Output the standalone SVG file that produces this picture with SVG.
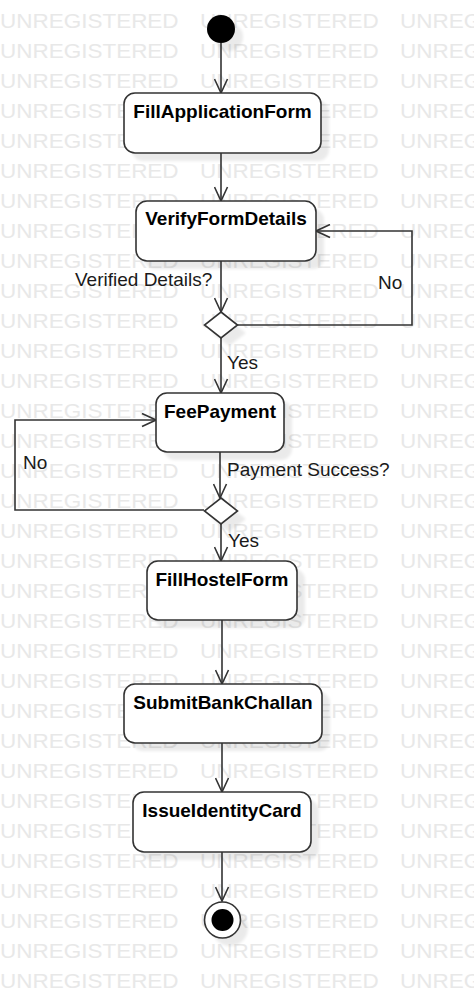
<svg xmlns="http://www.w3.org/2000/svg" width="474" height="999" viewBox="0 0 474 999">
<style>
.wm{font-family:"Liberation Sans",Arial,sans-serif;font-size:20px;fill:#e8e8e8}
.node{fill:#fff;stroke:#333;stroke-width:1.6}
.shadow{fill:#000;opacity:0.08;filter:url(#blur)}
.title{font-family:"Liberation Sans",Arial,sans-serif;font-size:19px;font-weight:bold;fill:#000;text-anchor:middle}
.lbl{font-family:"Liberation Sans",Arial,sans-serif;font-size:19px;fill:#1a1a1a}
.edge{fill:none;stroke:#333;stroke-width:1.6;marker-end:url(#arr)}
</style>
<defs>
<filter id="blur" x="-20%" y="-20%" width="140%" height="140%"><feGaussianBlur stdDeviation="1.5"/></filter>
<marker id="arr" markerUnits="userSpaceOnUse" viewBox="0 0 16 15" refX="15" refY="7.5" markerWidth="16" markerHeight="15" orient="auto"><path d="M1,1 L15,7.5 L1,14" fill="none" stroke="#333" stroke-width="1.6"/></marker>
</defs>
<rect width="474" height="999" fill="#fff"/>
<g id="watermark" transform="scale(1.125,1)">
<text class="wm" y="28"><tspan x="0">UNREGISTERED</tspan><tspan x="177.8">UNREGISTERED</tspan><tspan x="355.6">UNREGISTERED</tspan></text>
<text class="wm" y="58"><tspan x="0">UNREGISTERED</tspan><tspan x="177.8">UNREGISTERED</tspan><tspan x="355.6">UNREGISTERED</tspan></text>
<text class="wm" y="88"><tspan x="0">UNREGISTERED</tspan><tspan x="177.8">UNREGISTERED</tspan><tspan x="355.6">UNREGISTERED</tspan></text>
<text class="wm" y="118"><tspan x="0">UNREGISTERED</tspan><tspan x="177.8">UNREGISTERED</tspan><tspan x="355.6">UNREGISTERED</tspan></text>
<text class="wm" y="148"><tspan x="0">UNREGISTERED</tspan><tspan x="177.8">UNREGISTERED</tspan><tspan x="355.6">UNREGISTERED</tspan></text>
<text class="wm" y="178"><tspan x="0">UNREGISTERED</tspan><tspan x="177.8">UNREGISTERED</tspan><tspan x="355.6">UNREGISTERED</tspan></text>
<text class="wm" y="208"><tspan x="0">UNREGISTERED</tspan><tspan x="177.8">UNREGISTERED</tspan><tspan x="355.6">UNREGISTERED</tspan></text>
<text class="wm" y="238"><tspan x="0">UNREGISTERED</tspan><tspan x="177.8">UNREGISTERED</tspan><tspan x="355.6">UNREGISTERED</tspan></text>
<text class="wm" y="268"><tspan x="0">UNREGISTERED</tspan><tspan x="177.8">UNREGISTERED</tspan><tspan x="355.6">UNREGISTERED</tspan></text>
<text class="wm" y="298"><tspan x="0">UNREGISTERED</tspan><tspan x="177.8">UNREGISTERED</tspan><tspan x="355.6">UNREGISTERED</tspan></text>
<text class="wm" y="328"><tspan x="0">UNREGISTERED</tspan><tspan x="177.8">UNREGISTERED</tspan><tspan x="355.6">UNREGISTERED</tspan></text>
<text class="wm" y="358"><tspan x="0">UNREGISTERED</tspan><tspan x="177.8">UNREGISTERED</tspan><tspan x="355.6">UNREGISTERED</tspan></text>
<text class="wm" y="388"><tspan x="0">UNREGISTERED</tspan><tspan x="177.8">UNREGISTERED</tspan><tspan x="355.6">UNREGISTERED</tspan></text>
<text class="wm" y="418"><tspan x="0">UNREGISTERED</tspan><tspan x="177.8">UNREGISTERED</tspan><tspan x="355.6">UNREGISTERED</tspan></text>
<text class="wm" y="448"><tspan x="0">UNREGISTERED</tspan><tspan x="177.8">UNREGISTERED</tspan><tspan x="355.6">UNREGISTERED</tspan></text>
<text class="wm" y="478"><tspan x="0">UNREGISTERED</tspan><tspan x="177.8">UNREGISTERED</tspan><tspan x="355.6">UNREGISTERED</tspan></text>
<text class="wm" y="508"><tspan x="0">UNREGISTERED</tspan><tspan x="177.8">UNREGISTERED</tspan><tspan x="355.6">UNREGISTERED</tspan></text>
<text class="wm" y="538"><tspan x="0">UNREGISTERED</tspan><tspan x="177.8">UNREGISTERED</tspan><tspan x="355.6">UNREGISTERED</tspan></text>
<text class="wm" y="568"><tspan x="0">UNREGISTERED</tspan><tspan x="177.8">UNREGISTERED</tspan><tspan x="355.6">UNREGISTERED</tspan></text>
<text class="wm" y="598"><tspan x="0">UNREGISTERED</tspan><tspan x="177.8">UNREGISTERED</tspan><tspan x="355.6">UNREGISTERED</tspan></text>
<text class="wm" y="628"><tspan x="0">UNREGISTERED</tspan><tspan x="177.8">UNREGISTERED</tspan><tspan x="355.6">UNREGISTERED</tspan></text>
<text class="wm" y="658"><tspan x="0">UNREGISTERED</tspan><tspan x="177.8">UNREGISTERED</tspan><tspan x="355.6">UNREGISTERED</tspan></text>
<text class="wm" y="688"><tspan x="0">UNREGISTERED</tspan><tspan x="177.8">UNREGISTERED</tspan><tspan x="355.6">UNREGISTERED</tspan></text>
<text class="wm" y="718"><tspan x="0">UNREGISTERED</tspan><tspan x="177.8">UNREGISTERED</tspan><tspan x="355.6">UNREGISTERED</tspan></text>
<text class="wm" y="748"><tspan x="0">UNREGISTERED</tspan><tspan x="177.8">UNREGISTERED</tspan><tspan x="355.6">UNREGISTERED</tspan></text>
<text class="wm" y="778"><tspan x="0">UNREGISTERED</tspan><tspan x="177.8">UNREGISTERED</tspan><tspan x="355.6">UNREGISTERED</tspan></text>
<text class="wm" y="808"><tspan x="0">UNREGISTERED</tspan><tspan x="177.8">UNREGISTERED</tspan><tspan x="355.6">UNREGISTERED</tspan></text>
<text class="wm" y="838"><tspan x="0">UNREGISTERED</tspan><tspan x="177.8">UNREGISTERED</tspan><tspan x="355.6">UNREGISTERED</tspan></text>
<text class="wm" y="868"><tspan x="0">UNREGISTERED</tspan><tspan x="177.8">UNREGISTERED</tspan><tspan x="355.6">UNREGISTERED</tspan></text>
<text class="wm" y="898"><tspan x="0">UNREGISTERED</tspan><tspan x="177.8">UNREGISTERED</tspan><tspan x="355.6">UNREGISTERED</tspan></text>
<text class="wm" y="928"><tspan x="0">UNREGISTERED</tspan><tspan x="177.8">UNREGISTERED</tspan><tspan x="355.6">UNREGISTERED</tspan></text>
<text class="wm" y="958"><tspan x="0">UNREGISTERED</tspan><tspan x="177.8">UNREGISTERED</tspan><tspan x="355.6">UNREGISTERED</tspan></text>
<text class="wm" y="988"><tspan x="0">UNREGISTERED</tspan><tspan x="177.8">UNREGISTERED</tspan><tspan x="355.6">UNREGISTERED</tspan></text>
</g>
<g id="shadows">
<circle class="shadow" cx="229" cy="37" r="14"/>
<rect class="shadow" x="132" y="101" width="197" height="60" rx="11"/>
<rect class="shadow" x="144" y="209" width="180" height="60" rx="11"/>
<path class="shadow" d="M229,320 L246,333 L229,346 L212,333 Z"/>
<rect class="shadow" x="164" y="401" width="128" height="59" rx="11"/>
<path class="shadow" d="M229,506 L246,519 L229,532 L212,519 Z"/>
<rect class="shadow" x="155" y="569" width="150" height="59" rx="11"/>
<rect class="shadow" x="132" y="692" width="198" height="59" rx="11"/>
<rect class="shadow" x="141" y="800" width="178" height="60" rx="11"/>
<circle class="shadow" cx="230" cy="928" r="18"/>
</g>
<g id="connectors">
<path class="edge" d="M221,43 V93"/>
<path class="edge" d="M221,153 V201"/>
<path class="edge" d="M221,261 V312"/>
<path class="edge" d="M237,325 H412 V231 H316"/>
<path class="edge" d="M221,338 V393"/>
<path class="edge" d="M220,452 V498"/>
<path class="edge" d="M204,510 H15 V420 H156"/>
<path class="edge" d="M221,524 V561"/>
<path class="edge" d="M222,620 V684"/>
<path class="edge" d="M222,743 V792"/>
<path class="edge" d="M222,852 V901"/>
</g>
<g id="labels">
<text class="lbl" x="75" y="286">Verified Details?</text>
<text class="lbl" x="378" y="289">No</text>
<text class="lbl" x="227" y="369">Yes</text>
<text class="lbl" x="227" y="476">Payment Success?</text>
<text class="lbl" x="23" y="469">No</text>
<text class="lbl" x="228" y="547">Yes</text>
</g>
<g id="start"><circle cx="221" cy="29" r="14" fill="#000"/></g>
<g id="fillApplicationForm"><rect class="node" x="124" y="93" width="197" height="60" rx="11"/><text class="title" x="222.5" y="118">FillApplicationForm</text></g>
<g id="verifyFormDetails"><rect class="node" x="136" y="201" width="180" height="60" rx="11"/><text class="title" x="226" y="225">VerifyFormDetails</text></g>
<g id="decision1"><path class="node" d="M221,312 L237.5,325 L221,338 L204.5,325 Z"/></g>
<g id="feePayment"><rect class="node" x="156" y="393" width="128" height="59" rx="11"/><text class="title" x="220" y="418">FeePayment</text></g>
<g id="decision2"><path class="node" d="M221,498 L237.5,511 L221,524 L204.5,511 Z"/></g>
<g id="fillHostelForm"><rect class="node" x="147" y="561" width="150" height="59" rx="11"/><text class="title" x="222" y="586">FillHostelForm</text></g>
<g id="submitBankChallan"><rect class="node" x="124" y="684" width="198" height="59" rx="11"/><text class="title" x="223" y="709">SubmitBankChallan</text></g>
<g id="issueIdentityCard"><rect class="node" x="133" y="792" width="178" height="60" rx="11"/><text class="title" x="222" y="817">IssueIdentityCard</text></g>
<g id="end"><circle cx="222.5" cy="920" r="18" fill="#fff" stroke="#333" stroke-width="1.6"/><circle cx="222.5" cy="920" r="11" fill="#000"/></g>
</svg>
